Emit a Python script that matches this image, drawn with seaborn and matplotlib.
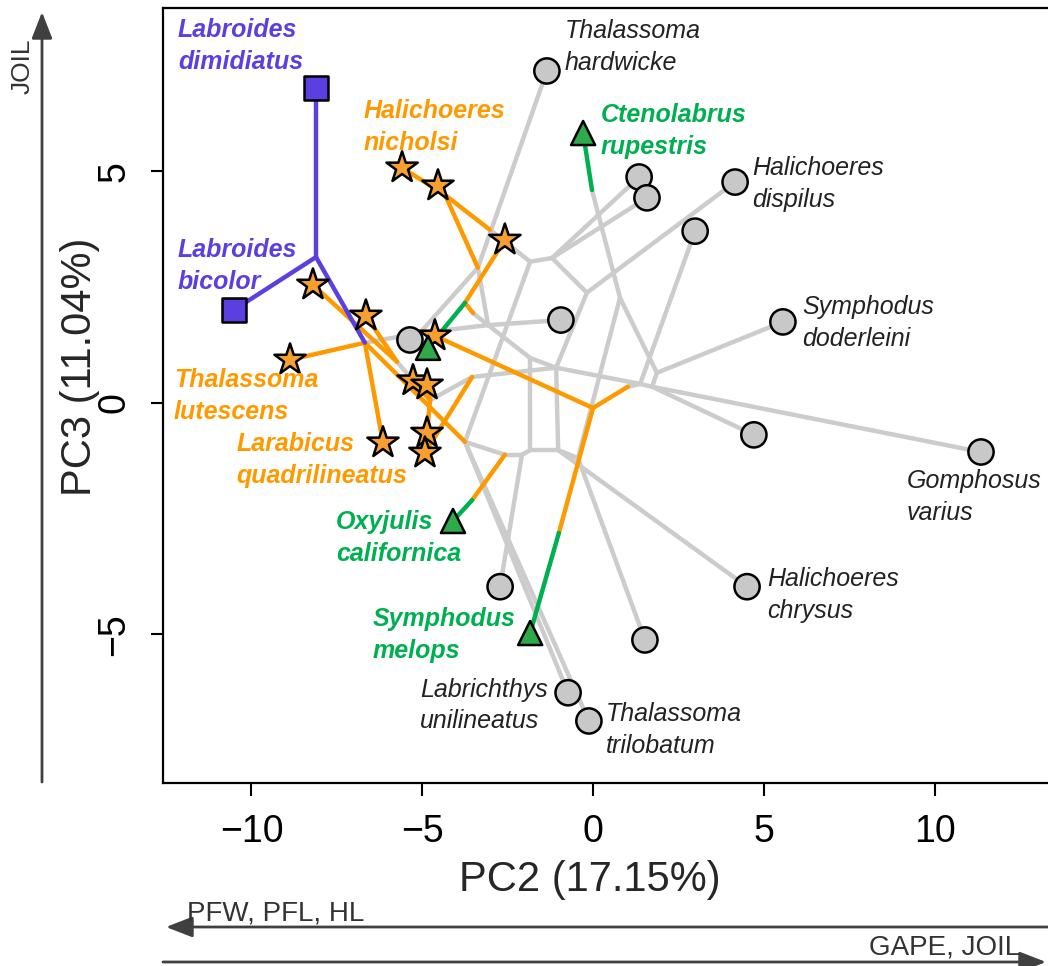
import matplotlib
matplotlib.use("Agg")
import matplotlib.pyplot as plt
import seaborn as sns
import pandas as pd

# ===========================
# Tip scores (PC2, PC3) and cleaning group
# ===========================
tip_names = ["Thalassoma hardwicke", "t02", "t03", "Halichoeres dispilus", "t05", "t06",
             "Symphodus doderleini", "t08", "t09", "Gomphosus varius", "Halichoeres chrysus",
             "t12", "t13", "Labrichthys unilineatus", "Thalassoma trilobatum",
             "Halichoeres nicholsi", "s02", "s03", "s04", "s05", "s06", "Thalassoma lutescens",
             "s08", "s09", "Larabicus quadrilineatus", "s11", "s12",
             "Ctenolabrus rupestris", "v02", "Oxyjulis californica", "Symphodus melops",
             "Labroides dimidiatus", "Labroides bicolor"]
tip_x = [-1.35, 1.35, 1.58, 4.16, 2.99, -0.94, 5.56, -5.36, 4.71, 11.36, 4.51, -2.72, 1.52, -0.73, -0.12,
         -5.59, -4.54, -2.58, -8.20, -6.65, -4.63, -8.87, -5.27, -4.86, -6.15, -4.86, -4.92,
         -0.29, -4.83, -4.10, -1.84,
         -8.11, -10.51]
tip_y = [7.17, 4.88, 4.43, 4.77, 3.71, 1.79, 1.75, 1.36, -0.69, -1.06, -3.97, -3.97, -5.12, -6.26, -6.87,
         5.08, 4.69, 3.52, 2.55, 1.88, 1.45, 0.93, 0.48, 0.39, -0.86, -0.65, -1.08,
         5.83, 1.19, -2.55, -4.97,
         6.80, 2.01]
tip_group = ["none"] * 15 + ["juvenile"] * 12 + ["facultative"] * 4 + ["obligate"] * 2

# reconstructed internal nodes (and points where the mapped regime changes)
node_names = ["P1", "g8", "g7", "Oc", "Of", "Oe", "Ob", "O1", "c1", "O3", "c3", "g9", "g10",
              "g2", "g1", "g5", "G1", "n5", "n1", "n2", "n3", "n4", "n6", "Oroot", "croot",
              "G2", "G3", "g14", "g13", "ccten", "cmel", "coxy"]
node_x = [-8.11, -6.68, -5.07, -5.74, -4.77, -3.54, -3.75, -4.33, -3.02, -3.75, -3.51, -3.07, -3.37,
          -1.84, -1.20, -0.18, -1.08, -1.84, -1.84, -1.02, -2.08, -2.58, -0.44, 0.00, 1.02,
          1.38, 1.73, 1.87, 0.79, -0.03, -1.00, -3.54]
node_y = [3.15, 1.30, 1.51, 0.89, 0.06, 0.56, -0.84, 4.49, 3.74, 2.16, 1.94, 1.68, 2.92,
          3.05, 3.13, 2.38, 0.76, 0.97, -1.02, -1.02, -1.12, -1.12, -1.19, -0.11, 0.35,
          0.41, 0.35, 0.65, 2.27, 4.60, -2.81, -2.10]

grey_edges = [("c1", "g2"), ("c3", "g9"), ("croot", "G2"), ("ccten", "g13"),
              ("g8", "g7"), ("g7", "t08"), ("g7", "g10"), ("g7", "g9"),
              ("g10", "Thalassoma hardwicke"), ("g10", "g9"), ("g9", "t06"), ("g9", "n5"),
              ("Oc", "Of"), ("Of", "Oe"), ("Oe", "G1"),
              ("Ob", "Labrichthys unilineatus"), ("Ob", "Thalassoma trilobatum"), ("Ob", "n4"),
              ("n4", "n3"), ("n3", "t12"), ("n3", "n1"), ("n1", "n5"), ("n1", "n2"), ("n5", "G1"),
              ("n2", "G1"), ("n2", "Halichoeres chrysus"), ("n2", "n6"), ("n6", "t13"), ("n6", "g13"),
              ("g2", "g1"), ("g2", "Ob"), ("g1", "t02"), ("g1", "t03"), ("g1", "g5"),
              ("g5", "Halichoeres dispilus"), ("g5", "G1"),
              ("G1", "G2"), ("G2", "t05"), ("G2", "G3"), ("G3", "Gomphosus varius"), ("G3", "t09"),
              ("G3", "g14"), ("g14", "Symphodus doderleini"), ("g14", "g13")]
orange_edges = [("g8", "Thalassoma lutescens"), ("g8", "Larabicus quadrilineatus"), ("g8", "Ob"),
                ("Oc", "s04"), ("Oc", "s05"), ("Of", "s08"), ("Of", "s09"), ("Of", "s11"),
                ("Oe", "s12"), ("O1", "Halichoeres nicholsi"), ("O1", "s02"), ("O1", "g10"),
                ("O1", "c1"), ("O3", "s03"), ("O3", "c3"),
                ("Oroot", "s06"), ("Oroot", "cmel"), ("Oroot", "croot"), ("coxy", "n4")]
green_edges = [("O3", "v02"), ("coxy", "Oxyjulis californica"), ("cmel", "Symphodus melops"),
               ("ccten", "Ctenolabrus rupestris")]
purple_edges = [("Labroides dimidiatus", "P1"), ("Labroides bicolor", "P1"), ("P1", "g8")]

# labelled species: text anchor (left edge, vertical centre)
label_names = ["Labroides dimidiatus", "Labroides bicolor", "Halichoeres nicholsi",
               "Thalassoma lutescens", "Larabicus quadrilineatus", "Ctenolabrus rupestris",
               "Oxyjulis californica", "Symphodus melops", "Thalassoma hardwicke",
               "Halichoeres dispilus", "Symphodus doderleini", "Gomphosus varius",
               "Halichoeres chrysus", "Labrichthys unilineatus", "Thalassoma trilobatum"]
label_x = [-12.15, -12.15, -6.73, -12.27, -10.45, 0.23, -7.53, -6.44, -0.82,
           4.66, 6.12, 9.19, 5.10, -5.07, 0.38]
label_y = [7.71, 2.96, 5.96, 0.15, -1.23, 5.87, -2.92, -5.01, 7.69,
           4.73, 1.73, -2.03, -4.15, -6.54, -7.06]

# ===========================
# Styling
# ===========================
line_colors = {"grey": "#CCCCCC", "orange": "#FF9900", "green": "#00B050", "purple": "#5B3FE0"}
fill_colors = {"none": "#C8C8C8", "juvenile": "#F7A030", "facultative": "#2EAA4A", "obligate": "#5B3FE0"}
text_colors = {"none": "#222222", "juvenile": "#FF9900", "facultative": "#00B050", "obligate": "#5B3FE0"}
markers = {"none": "o", "juvenile": "*", "facultative": "^", "obligate": "s"}
sizes = {"none": 330, "juvenile": 560, "facultative": 300, "obligate": 290}

sns.set_theme(style="white")
plt.rcParams["font.family"] = ["Liberation Sans", "DejaVu Sans"]
plt.rcParams["lines.solid_capstyle"] = "round"
plt.rcParams["lines.solid_joinstyle"] = "round"

# ===========================
# Build segment table
# ===========================
coords = dict(zip(tip_names + node_names, zip(tip_x + node_x, tip_y + node_y)))
rows = []
k = 0
for regime, edges in [("grey", grey_edges), ("orange", orange_edges),
                      ("purple", purple_edges), ("green", green_edges)]:
    for a, b in edges:
        for n in (a, b):
            rows.append({"x": coords[n][0], "y": coords[n][1], "edge": k, "regime": regime})
        k += 1
seg = pd.DataFrame(rows)
tips = pd.DataFrame({"x": tip_x, "y": tip_y, "group": tip_group, "name": tip_names})

W, H = 1048, 966
fig = plt.figure(figsize=(W / 100, H / 100), dpi=100)
ax = fig.add_axes([163 / W, 1 - 783 / H, (1050 - 163) / W, (783 - 8) / H])

sns.lineplot(data=seg, x="x", y="y", hue="regime", units="edge", estimator=None, sort=False,
             palette=line_colors, hue_order=["grey", "orange", "purple", "green"],
             linewidth=3.2, legend=False, ax=ax)
sns.scatterplot(data=tips, x="x", y="y", hue="group", style="group", size="group",
                palette=fill_colors, markers=markers, sizes=sizes,
                edgecolor="black", linewidth=1.8, legend=False, zorder=3, ax=ax)

for name, lx, ly in zip(label_names, label_x, label_y):
    g = tip_group[tip_names.index(name)]
    ax.text(lx, ly, name.replace(" ", "\n"), ha="left", va="center", fontsize=18,
            style="italic", fontweight="normal" if g == "none" else "bold",
            color=text_colors[g], linespacing=1.4, zorder=4)

ax.set_xlim(-12.59, 13.38)
ax.set_ylim(-8.21, 8.53)
ax.set_xticks([-10, -5, 0, 5, 10])
ax.set_xticklabels(["\u221210", "\u22125", "0", "5", "10"])
ax.set_yticks([-5, 0, 5])
ax.set_yticklabels(["\u22125", "0", "5"], rotation=90, va="center")
ax.tick_params(direction="out", length=9, width=1.5, labelsize=27, pad=13, colors="black",
               bottom=True, left=True)
ax.set_xlabel("")
ax.set_ylabel("")
for s in ax.spines.values():
    s.set_linewidth(1.6)
    s.set_color("black")

fig.text(590 / W, 1 - 880 / H, "PC2 (17.15%)", ha="center", va="center", fontsize=30)
fig.text(80 / W, 1 - 367 / H, "PC3 (11.04%)", ha="center", va="center", fontsize=30, rotation=90)

# loading arrows outside the plot
arrow_kw = dict(arrowstyle="-|>,head_length=0.9,head_width=0.35", color="#404040", lw=2,
                shrinkA=0, shrinkB=0, mutation_scale=18)
ax.annotate("", xy=(42, H - 12), xytext=(42, H - 782), xycoords="figure pixels",
            textcoords="figure pixels", arrowprops=arrow_kw, annotation_clip=False)
ax.annotate("", xy=(166, H - 927), xytext=(1048, H - 927), xycoords="figure pixels",
            textcoords="figure pixels", arrowprops=arrow_kw, annotation_clip=False)
ax.annotate("", xy=(1046, H - 962), xytext=(163, H - 962), xycoords="figure pixels",
            textcoords="figure pixels", arrowprops=arrow_kw, annotation_clip=False)
fig.text(23 / W, 1 - 66 / H, "JOIL", rotation=90, ha="center", va="center", fontsize=19, color="#333333")
fig.text(187 / W, 1 - 921 / H, "PFW, PFL, HL", ha="left", va="baseline", fontsize=20, color="#333333")
fig.text(1020 / W, 1 - 955 / H, "GAPE, JOIL", ha="right", va="baseline", fontsize=20, color="#333333")

fig.savefig("out.png", dpi=100)
